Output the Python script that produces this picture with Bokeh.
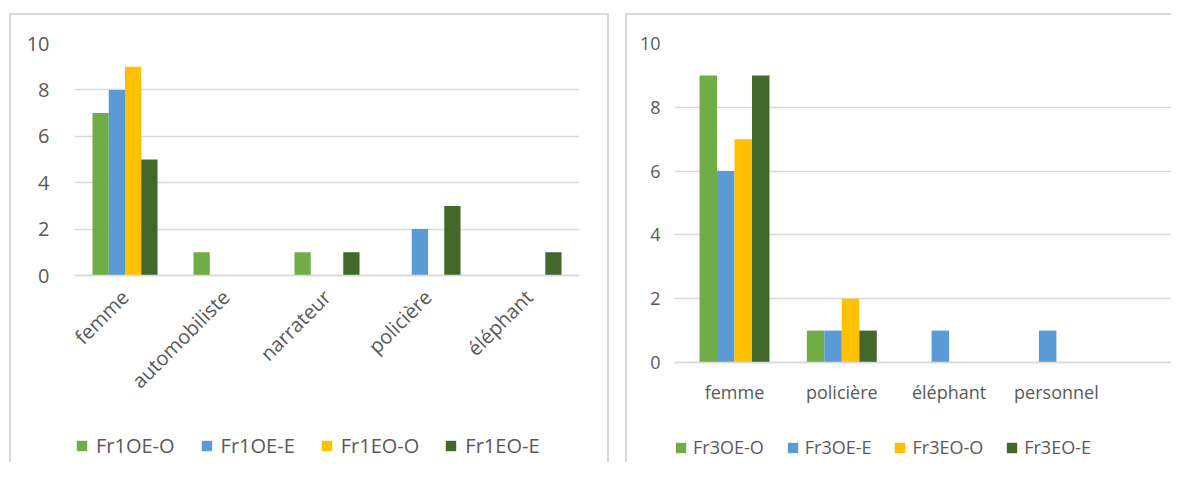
import math
from bokeh.plotting import figure
from bokeh.models import (Range1d, FixedTicker, Legend, LegendItem, ColumnDataSource)
from bokeh.layouts import row
from bokeh.transform import dodge
from bokeh.embed import file_html
from bokeh.resources import INLINE

# ---------------- data ----------------
left_categories = ["femme", "automobiliste", "narrateur", "policière", "éléphant"]
left_series = ["Fr1OE-O", "Fr1OE-E", "Fr1EO-O", "Fr1EO-E"]
fr1oe_o = [7, 1, 1, 0, 0]
fr1oe_e = [8, 0, 0, 2, 0]
fr1eo_o = [9, 0, 0, 0, 0]
fr1eo_e = [5, 0, 1, 3, 1]

right_categories = ["femme", "policière", "éléphant", "personnel"]
right_series = ["Fr3OE-O", "Fr3OE-E", "Fr3EO-O", "Fr3EO-E"]
fr3oe_o = [9, 1, 0, 0]
fr3oe_e = [6, 1, 1, 1]
fr3eo_o = [7, 2, 0, 0]
fr3eo_e = [9, 1, 0, 0]

y_ticks = [0, 2, 4, 6, 8, 10]
colors = ["#70AD47", "#5B9BD5", "#FFC000", "#43682B"]

FONT = "Open Sans"
TEXT = "#595959"
GRID = "#D9D9D9"
HEIGHT = 462


def line(x, y, w, h):
    return f"linear-gradient({GRID},{GRID}) {x}px {y}px / {w}px {h}px no-repeat"


def make_chart(cats, names, values, width, frame_left, frame_right, top_px,
               zero_px, cat_px, first_center_px, font_px, xlabel_px, rotate,
               x_standoff, y_standoff, legend_loc, legend_spacing,
               label_standoff, bar_w, panel_bg):
    xs = list(range(len(cats)))
    data = {"x": xs}
    for n, v in zip(names, values):
        data[n] = v
    src = ColumnDataSource(data)

    # the frame runs down to the bottom of the canvas so that the axis labels
    # and the legend (drawn inside it) are never clipped
    y_start = -10 * (HEIGHT - zero_px) / (zero_px - top_px)
    x_start = -(first_center_px - frame_left) / cat_px
    x_end = x_start + (frame_right - frame_left) / cat_px

    p = figure(width=width, height=HEIGHT,
               x_range=Range1d(x_start, x_end), y_range=Range1d(y_start, 10),
               output_backend="svg", toolbar_location=None,
               min_border_left=frame_left, min_border_right=width - frame_right,
               min_border_top=top_px, min_border_bottom=0,
               styles={"background": panel_bg})
    p.outline_line_color = None
    p.background_fill_color = "white"
    p.border_fill_color = None

    items = []
    for i, (n, c) in enumerate(zip(names, colors)):
        r = p.vbar(x=dodge("x", (i - 1.5) * bar_w), top=n, width=bar_w,
                   source=src, fill_color=c, line_color=None)
        items.append(LegendItem(label=n, renderers=[r]))

    # y axis
    yax = p.yaxis[0]
    yax.ticker = FixedTicker(ticks=y_ticks)
    yax.axis_line_color = None
    yax.major_tick_line_color = None
    yax.minor_tick_line_color = None
    yax.major_tick_out = 0
    yax.major_tick_in = 0
    yax.major_label_standoff = y_standoff
    yax.major_label_text_font = FONT
    yax.major_label_text_font_size = f"{font_px}px"
    yax.major_label_text_color = TEXT

    # x axis, pinned at y = 0
    xax = p.xaxis[0]
    xax.fixed_location = 0
    xax.ticker = FixedTicker(ticks=xs)
    xax.major_label_overrides = {i: c for i, c in enumerate(cats)}
    xax.axis_line_color = GRID
    xax.axis_line_width = 1.5
    xax.major_tick_line_color = None
    xax.minor_tick_line_color = None
    xax.major_tick_out = 0
    xax.major_tick_in = 0
    xax.major_label_standoff = x_standoff
    xax.major_label_text_font = FONT
    xax.major_label_text_font_size = f"{xlabel_px}px"
    xax.major_label_text_color = TEXT
    if rotate:
        xax.major_label_orientation = math.pi / 4

    p.xgrid.grid_line_color = None
    p.ygrid.ticker = FixedTicker(ticks=y_ticks)
    p.ygrid.grid_line_color = GRID
    p.ygrid.grid_line_width = 1.5

    legend = Legend(items=items, orientation="horizontal", location=legend_loc,
                    margin=0, padding=0, spacing=legend_spacing,
                    glyph_width=13, glyph_height=13, label_standoff=label_standoff,
                    label_text_font=FONT, label_text_font_size=f"{font_px}px",
                    label_text_color=TEXT, border_line_color=None,
                    background_fill_alpha=0)
    p.add_layout(legend)
    return p


left_bg = ", ".join([line(9, 13, 2, 460), line(9, 13, 600, 2), line(607, 13, 2, 460)])
right_bg = ", ".join([line(8, 13, 2, 460), line(8, 13, 560, 2)])

left = make_chart(left_categories, left_series,
                  [fr1oe_o, fr1oe_e, fr1eo_o, fr1eo_e],
                  width=617, frame_left=74, frame_right=579, top_px=43,
                  zero_px=275, cat_px=101, first_center_px=124.5,
                  font_px=20, xlabel_px=20, rotate=True, x_standoff=18,
                  y_standoff=25, legend_loc=(1, 3), legend_spacing=25,
                  label_standoff=8, bar_w=0.161, panel_bg=left_bg)

right = make_chart(right_categories, right_series,
                   [fr3oe_o, fr3oe_e, fr3eo_o, fr3eo_e],
                   width=554, frame_left=57, frame_right=554, top_px=43,
                   zero_px=362, cat_px=107.3, first_center_px=734 - 617,
                   font_px=18, xlabel_px=18, rotate=False, x_standoff=17,
                   y_standoff=14, legend_loc=(0, 3), legend_spacing=22,
                   label_standoff=6, bar_w=0.163, panel_bg=right_bg)

layout = row(left, right)
open("out.html", "w").write(file_html(layout, INLINE))
